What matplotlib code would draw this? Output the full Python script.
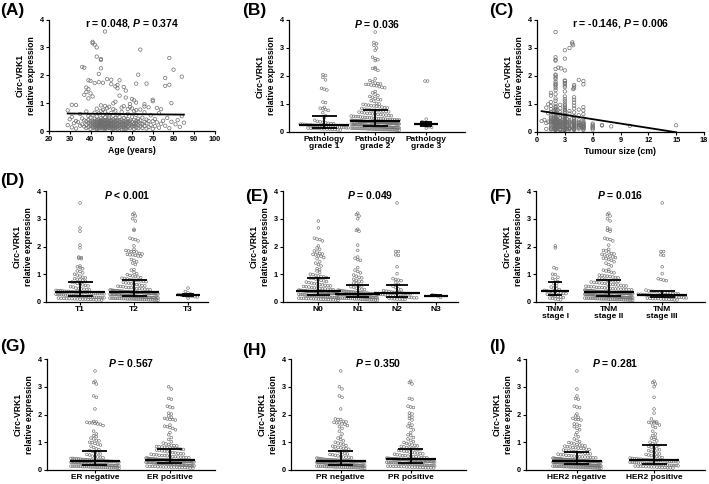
import numpy as np
import matplotlib.pyplot as plt

plt.rcParams['font.family'] = 'Liberation Sans'
plt.rcParams['font.weight'] = 'bold'
plt.rcParams['axes.labelweight'] = 'bold'
plt.rcParams['mathtext.fontset'] = 'custom'
plt.rcParams['mathtext.it'] = 'Liberation Sans:italic:bold'
plt.rcParams['mathtext.rm'] = 'Liberation Sans:bold'

# circ-VRK1 relative expression per patient, high -> low, 25 per line
expr = [
    3.57, 3.20, 3.15, 3.10, 3.00, 2.92, 2.67, 2.62, 2.58, 2.55, 2.30, 2.27, 2.25, 2.20, 2.05, 2.02, 1.95, 1.90, 1.86, 1.84, 1.82, 1.82, 1.80, 1.75, 1.73,
    1.72, 1.70, 1.70, 1.68, 1.66, 1.65, 1.62, 1.60, 1.58, 1.56, 1.53, 1.50, 1.45, 1.40, 1.35, 1.30, 1.27, 1.24, 1.20, 1.17, 1.15, 1.12, 1.10, 1.07, 1.05,
    1.02, 1.00, 0.99, 0.97, 0.96, 0.94, 0.93, 0.92, 0.90, 0.89, 0.88, 0.87, 0.86, 0.85, 0.84, 0.83, 0.82, 0.81, 0.80, 0.79, 0.78, 0.78, 0.77, 0.76, 0.75,
    0.74, 0.73, 0.72, 0.71, 0.70, 0.69, 0.68, 0.67, 0.66, 0.65, 0.64, 0.63, 0.62, 0.61, 0.60, 0.59, 0.58, 0.58, 0.57, 0.56, 0.55, 0.55, 0.54, 0.53, 0.52,
    0.52, 0.51, 0.50, 0.50, 0.49, 0.48, 0.48, 0.47, 0.47, 0.46, 0.46, 0.45, 0.45, 0.44, 0.44, 0.43, 0.43, 0.42, 0.42, 0.42, 0.41, 0.41, 0.41, 0.40, 0.40,
    0.40, 0.40, 0.39, 0.39, 0.39, 0.39, 0.38, 0.38, 0.38, 0.38, 0.38, 0.37, 0.37, 0.37, 0.37, 0.37, 0.37, 0.36, 0.36, 0.36, 0.36, 0.36, 0.36, 0.36, 0.35,
    0.35, 0.35, 0.35, 0.35, 0.34, 0.34, 0.34, 0.34, 0.34, 0.33, 0.33, 0.33, 0.33, 0.33, 0.32, 0.32, 0.32, 0.32, 0.32, 0.31, 0.31, 0.31, 0.31, 0.31, 0.30,
    0.30, 0.30, 0.30, 0.30, 0.29, 0.29, 0.29, 0.29, 0.29, 0.28, 0.28, 0.28, 0.28, 0.28, 0.27, 0.27, 0.27, 0.27, 0.27, 0.26, 0.26, 0.26, 0.26, 0.26, 0.25,
    0.25, 0.25, 0.25, 0.25, 0.24, 0.24, 0.24, 0.24, 0.24, 0.23, 0.23, 0.23, 0.23, 0.23, 0.22, 0.22, 0.22, 0.22, 0.22, 0.21, 0.21, 0.21, 0.21, 0.21, 0.21,
    0.21, 0.21, 0.20, 0.20, 0.20, 0.20, 0.19, 0.19, 0.19, 0.19, 0.19, 0.18, 0.18, 0.18, 0.18, 0.18, 0.17, 0.17, 0.17, 0.17, 0.17, 0.16, 0.16, 0.16, 0.16,
    0.16, 0.15, 0.15, 0.15, 0.15, 0.15, 0.14, 0.14, 0.14, 0.14, 0.14, 0.13, 0.13, 0.13, 0.13, 0.13, 0.12, 0.12, 0.12, 0.12, 0.12, 0.12, 0.11, 0.11, 0.11,
    0.11, 0.11, 0.11, 0.10, 0.10, 0.10, 0.10, 0.10, 0.10, 0.10, 0.09, 0.09, 0.09, 0.09, 0.09, 0.09, 0.08, 0.08, 0.08, 0.08, 0.08, 0.07, 0.07, 0.07, 0.06,
]

age = [
    47, 41, 41, 42, 43, 64, 43, 78, 45, 45, 36, 37, 45, 80, 44, 63, 84, 76, 48, 50, 39, 54, 40, 44, 46,
    42, 62, 67, 50, 78, 53, 76, 52, 56, 38, 53, 39, 57, 38, 40, 37, 54, 41, 57, 39, 60, 70, 61, 70, 52,
    62, 79, 51, 59, 66, 31, 33, 45, 47, 56, 66, 49, 59, 68, 55, 72, 48, 60, 43, 58, 74, 51, 64, 46, 62,
    29, 52, 45, 61, 38, 47, 55, 66, 42, 50, 73, 44, 58, 35, 48, 53, 62, 41, 46, 69, 51, 57, 39, 84, 49,
    43, 60, 31, 54, 47, 65, 40, 52, 77, 45, 56, 36, 49, 63, 42, 58, 71, 46, 51, 30, 55, 44, 67, 48, 53,
    61, 39, 47, 82, 50, 43, 57, 64, 45, 52, 37, 48, 59, 41, 75, 54, 46, 33, 62, 50, 44, 68, 56, 42, 49,
    53, 47, 70, 38, 58, 45, 51, 63, 40, 55, 48, 79, 43, 60, 46, 34, 52, 57, 66, 41, 49, 54, 44, 72, 50,
    46, 59, 42, 85, 48, 53, 39, 62, 45, 56, 51, 67, 43, 32, 58, 47, 50, 64, 40, 55, 74, 44, 49, 61, 52,
    41, 57, 47, 65, 36, 53, 45, 50, 81, 59, 43, 48, 62, 54, 38, 46, 69, 51, 56, 44, 29, 49, 60, 42, 55,
    48, 63, 45, 52, 40, 57, 76, 46, 50, 35, 54, 61, 43, 49, 66, 47, 58, 41, 53, 71, 44, 51, 37, 56, 64,
    45, 50, 60, 42, 83, 48, 55, 39, 47, 68, 52, 44, 58, 31, 46, 53, 62, 49, 41, 73, 57, 43, 51, 65, 47,
    54, 38, 49, 59, 45, 78, 52, 42, 63, 48, 56, 33, 44, 50, 67, 46, 53, 40, 61, 47, 70, 51, 43, 57, 55,
]

tumour_size = [
    2, 3.8, 3.8, 3.9, 3.5, 3, 2, 3, 2, 2, 2.3, 2.6, 2, 3, 2, 2, 2, 2, 4.5, 3, 3, 5, 2, 3, 2,
    3, 5, 2, 4, 3, 2, 4, 3, 2, 4, 3.9, 2, 3, 1.5, 2, 1.5, 3, 4, 2, 3, 4, 2, 3, 1.5, 4,
    3, 2, 1.2, 2.5, 3, 4, 1.5, 2, 3, 5, 2, 1, 3, 2.5, 4, 2, 1.5, 3, 4.5, 2, 3, 2.2, 5, 1.8, 3.5,
    2, 3, 1.5, 2.5, 4, 2, 3, 1.2, 3.5, 2, 5, 2.5, 1.8, 3, 4.5, 2, 3, 1.5, 2.2, 4, 3, 2, 2.8, 3.5, 1.5,
    3, 2, 4, 2.5, 1.5, 3, 5, 2, 3.2, 2, 4, 1.8, 3, 2.5, 2, 0.8, 3, 4.5, 1.5, 2, 3.5, 2.2, 3, 4, 2,
    1.5, 3, 0.5, 2, 2.5, 4, 3, 1.8, 2, 5, 3, 2.5, 1.2, 3.5, 2, 4, 3, 2, 1.5, 2.8, 3, 4.5, 2, 2.5, 3,
    2, 3.5, 1.5, 3, 2, 4, 2.5, 5, 1.8, 3, 2, 3.2, 4, 1.5, 2.5, 3, 2, 4.5, 1, 3, 2.2, 3.5, 2, 5, 3,
    2.5, 4, 2, 6, 3, 4.5, 2, 3.5, 2.8, 4, 2, 3, 5, 5, 2.5, 3, 2, 4, 1.5, 3.2, 6, 2.5, 3, 4, 4.5,
    3, 2, 4.5, 7, 15, 2.5, 4, 3, 2, 5, 1.8, 3, 7, 2.5, 10, 3.5, 2, 4, 3, 5, 2.2, 3, 5, 2, 6,
    2.5, 3, 4, 8, 2, 4.5, 3, 2.8, 4.5, 2, 3, 5, 2.5, 5, 3, 3, 2, 3.5, 1.5, 4, 6, 3, 2, 4, 3,
    4, 2, 3, 5, 1.5, 5, 3, 2, 3.5, 4.5, 6, 3, 2.5, 4, 2, 3.5, 3, 2.2, 4.5, 3, 2, 3, 1, 3.5, 4,
    3, 1.5, 2.5, 4, 2, 3, 5, 1.8, 3.2, 3, 2.5, 4, 3, 1.5, 6, 3.5, 2.8, 4, 2, 3, 5, 2.5, 2.5, 3, 2,
]

# clinical group of each patient (same order as expr), 25 per line
grade_code = (
    "22222 22222 22221 11212 33222" "22222 22221 11222 22222 22211"
    "22222 22222 12212 12212 22122" "22222 12222 22222 22122 22222"
    "22122 22222 32222 22221 22222" "22222 21222 23222 22122 22222"
    "22122 23222 21222 22322 21222" "12212 22321 22122 21232 21221"
    "21221 23212 21221 22312 21212" "12212 21321 22122 12231 22122"
    "21221 22312 21221 21222 12212" "22122 12212 21222 12221 22122"
)
t_code = (
    "12222 21221 22221 21222 22222" "22222 21111 22222 11112 21121"
    "21212 21221 21221 21212 21221" "22121 22121 22121 22122 12122"
    "22131 22121 22121 22122 12122" "12212 21231 22121 22122 12122"
    "22122 12213 22121 22122 12121" "21212 23212 21213 21221 22121"
    "21321 22312 21213 21221 23121" "23122 12312 21213 21221 22121"
    "21212 21232 21212 21212 21212" "12212 12212 12212 12212 12212"
)
n_code = (
    "21111 00111 00001 00010 22000" "02020 01010 11000 02100 10101"
    "20010 01001 01002 01202 01201" "01020 10100 20010 01020 10010"
    "20100 10201 00120 10010 02010" "01020 10010 20100 10201 00102"
    "10200 11020 01101 20110 01021" "12010 21102 01120 12013 10210"
    "01210 13021 10120 21031 20110" "11020 12101 02110 13102 01210"
    "10210 21011 20101 12010 01102" "01120 10210 11020 20101 10110"
)
tnm_code = (
    "32222 22222 22222 11222 33222" "23232 22222 22222 23112 22222"
    "31122 22221 22213 22313 22322" "21222 22212 22222 12222 22122"
    "22212 21222 22122 32212 22232" "21232 22322 12223 22132 22212"
    "32212 23222 21232 22322 12223" "23212 32223 22132 32212 22322"
    "32232 21322 32223 22312 23232" "23223 21232 32213 22322 31222"
    "22322 32132 22312 23223 32212" "32232 21322 32223 22312 22322"
)
er_code = (
    "00001 10011 11101 11111 11100" "00000 01011 11101 01001 00100"
    "10010 10101 11011 11011 11101" "10110 11011 01101 10110 11011"
    "11010 11011 01101 11010 10110" "01101 10110 11011 01101 10110"
    "10101 10110 01101 10011 01101" "01101 10010 11010 01101 10101"
    "10010 01101 10100 11010 01011" "01010 10011 00101 10100 11010"
    "00110 10010 01001 10100 01011" "10010 01001 00110 10100 01010"
)
pr_code = (
    "01110 00011 11101 11110 00100" "00010 01010 10101 01101 01010"
    "10101 01011 01010 10101 01010" "11011 01101 10110 11010 01101"
    "10110 11010 01101 10110 11011" "01101 10110 11010 01101 10101"
    "10100 10101 01001 10110 01010" "01010 10010 10101 01001 10100"
    "10100 01010 01001 10010 01010" "01001 10010 10100 01010 01001"
    "10010 01001 01010 10100 01010" "01010 10100 10010 01001 10010"
)
her2_code = (
    "01111 00100 00011 00001 00011" "11110 01010 10010 10101 10101"
    "01001 01000 10010 01000 10010" "01001 00100 10010 01001 00100"
    "10010 01001 00100 10010 01001" "00100 10010 01001 00100 10010"
    "01001 00100 10010 01001 00100" "10010 01001 00100 10010 01001"
    "00100 10010 01001 00100 10010" "01001 00100 10010 01001 00100"
    "10010 01001 00100 10010 01001" "00100 10010 01001 00100 10010"
)

expr_arr = np.array(expr)
assert len(age) == len(expr) and len(tumour_size) == len(expr)

W, H = 709, 484
fig = plt.figure(figsize=(W / 100, H / 100), dpi=100)
GREY = '#6e6e6e'


def make_axes(x0, x1, ytop, ybot):
    ax = fig.add_axes([x0 / W, 1 - ybot / H, (x1 - x0) / W, (ybot - ytop) / H])
    for s in ('top', 'right'):
        ax.spines[s].set_visible(False)
    for s in ('left', 'bottom'):
        ax.spines[s].set_linewidth(0.9)
    ax.tick_params(direction='out', length=2.2, width=0.8, labelsize=5.3, pad=1.5)
    ax.set_ylim(0, 4)
    ax.set_yticks(range(5))
    ax.set_ylabel('Circ-VRK1\nrelative expression', fontsize=6.2, labelpad=3, linespacing=1.3)
    return ax


def put_title(ax, txt):
    ax.text(0.5, 0.965, txt, transform=ax.transAxes, ha='center', va='center', fontsize=7.5)


def swarm(vals, pos, px_x, px_y, max_half, d=2.7, row=4.0):
    # points in the same height band are laid side by side
    rows = np.floor(vals * px_y / row).astype(int)
    xs = np.full(len(vals), float(pos))
    for r in np.unique(rows):
        idx = np.where(rows == r)[0]
        n = len(idx)
        step = d
        if n > 1 and (n - 1) * d / 2 > max_half:
            step = 2 * max_half / (n - 1)
        xs[idx] = pos + (np.arange(n) - (n - 1) / 2) * step / px_x
    return xs


def scatter_panel(rect, xvals, xlim, xticks, xlabel, title):
    ax = make_axes(*rect)
    xvals = np.array(xvals, float)
    ax.scatter(xvals, expr_arr, s=6, facecolors='none', edgecolors=GREY,
               linewidths=0.5, clip_on=False, zorder=2)
    slope, inter = np.polyfit(xvals, expr_arr, 1)
    xs = np.array([xvals.min(), xvals.max()])
    ax.plot(xs, slope * xs + inter, color='black', lw=1.3, zorder=3)
    ax.set_xlim(*xlim)
    ax.set_xticks(xticks)
    ax.set_xlabel(xlabel, fontsize=6.3, labelpad=2)
    put_title(ax, title)
    return ax


def dot_panel(rect, xlim, code_str, groups, labels, title):
    ax = make_axes(*rect)
    codes = np.array(list(code_str.replace(' ', '')))
    assert len(codes) == len(expr), len(codes)
    x0, x1, yt, yb = rect
    px_x = (x1 - x0) / (xlim[1] - xlim[0])
    px_y = (yb - yt) / 4
    max_half = min(24, 0.5 * px_x)
    for i, g in enumerate(groups):
        vals = expr_arr[codes == g]
        xs = swarm(vals, i, px_x, px_y, max_half)
        ax.scatter(xs, vals, s=3.6, facecolors='none', edgecolors=GREY,
                   linewidths=0.45, clip_on=False, zorder=2)
        q1, med, q3 = np.percentile(vals, [25, 50, 75])
        half = np.max(np.abs(xs - i)) * px_x + 3
        half = min(max(half, 12), 25) / px_x
        cap = half * 0.5
        ax.plot([i - half, i + half], [med, med], color='black', lw=1.6,
                solid_capstyle='butt', zorder=3)
        ax.plot([i, i], [q1, q3], color='black', lw=1.3, zorder=3)
        for q in (q1, q3):
            ax.plot([i - cap, i + cap], [q, q], color='black', lw=1.3,
                    solid_capstyle='butt', zorder=3)
    ax.set_xlim(*xlim)
    ax.set_xticks(range(len(groups)))
    ax.set_xticklabels(labels, fontsize=6.0, linespacing=1.0)
    ax.tick_params(axis='x', pad=0.6, length=2.0)
    put_title(ax, title)
    return ax


scatter_panel((49, 215, 19.5, 131), age, (20, 100), range(20, 101, 10),
              'Age (years)', r'r = 0.048, $P$ = 0.374')
dot_panel((289, 465, 20, 132), (-0.69, 2.76), grade_code, ['1', '2', '3'],
          ['Pathology\ngrade 1', 'Pathology\ngrade 2', 'Pathology\ngrade 3'],
          r'$P$ = 0.036')
scatter_panel((537, 704, 20, 132), tumour_size, (0, 18), range(0, 19, 3),
              'Tumour size (cm)', r'r = -0.146, $P$ = 0.006')

dot_panel((46, 208, 191, 302), (-0.63, 2.37), t_code, ['1', '2', '3'],
          ['T1', 'T2', 'T3'], r'$P$ < 0.001')
dot_panel((283, 458, 191, 302), (-0.9, 3.55), n_code, ['0', '1', '2', '3'],
          ['N0', 'N1', 'N2', 'N3'], r'$P$ = 0.049')
dot_panel((536, 705, 191, 302), (-0.36, 2.8), tnm_code, ['1', '2', '3'],
          ['TNM\nstage I', 'TNM\nstage II', 'TNM\nstage III'], r'$P$ = 0.016')

dot_panel((47, 215, 359, 470), (-0.64, 1.6), er_code, ['0', '1'],
          ['ER negative', 'ER positive'], r'$P$ = 0.567')
dot_panel((291, 466, 359, 470), (-0.71, 1.79), pr_code, ['0', '1'],
          ['PR negative', 'PR positive'], r'$P$ = 0.350')
dot_panel((526, 705, 359, 470), (-0.66, 1.66), her2_code, ['0', '1'],
          ['HER2 negative', 'HER2 positive'], r'$P$ = 0.281')

# panel letters
for lab, x, y in [('(A)', 0, 10), ('(B)', 242, 10), ('(C)', 489, 10),
                  ('(D)', 0, 181), ('(E)', 245, 197), ('(F)', 489, 197),
                  ('(G)', 0, 347), ('(H)', 242, 350), ('(I)', 489, 347)]:
    fig.text(x / W, 1 - y / H, lab, fontsize=12.5, fontweight='bold',
             ha='left', va='center')

fig.savefig('out.png', dpi=100)
